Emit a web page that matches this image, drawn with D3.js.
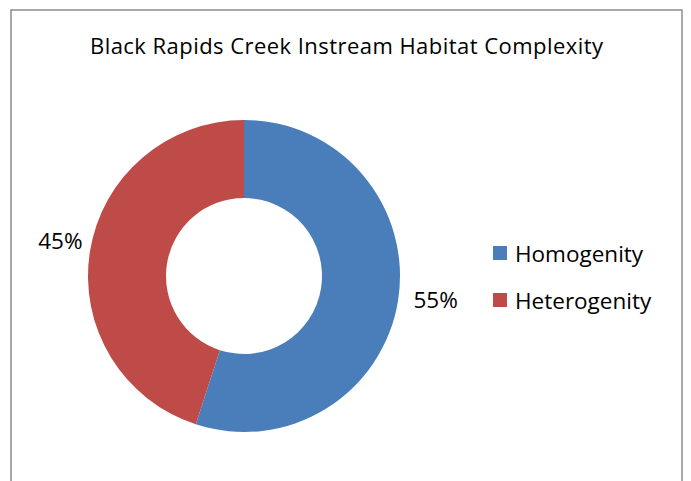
<!DOCTYPE html>
<html>
<head>
<meta charset="utf-8">
<script src="https://cdn.jsdelivr.net/npm/d3@7"></script>
<style>
  html, body { margin: 0; padding: 0; background: #fff; }
  svg { display: block; }
  text { font-family: "Open Sans", Lato, "Liberation Sans", sans-serif; fill: #000; }
</style>
</head>
<body>
<svg id="chart" width="691" height="481"></svg>
<script>
// Habitat complexity shares
const categories = ["Homogenity", "Heterogenity"];
const values = [55, 45];
const colors = ["#4a7ebb", "#be4b48"];
const chartTitle = "Black Rapids Creek Instream Habitat Complexity";

const svg = d3.select("#chart");

// chart frame
svg.append("rect")
  .attr("x", 11).attr("y", 10)
  .attr("width", 671).attr("height", 480)
  .attr("fill", "#fff")
  .attr("stroke", "#8c8c8c")
  .attr("stroke-width", 1.5);

svg.append("text")
  .attr("x", 90).attr("y", 54)
  .attr("font-size", 22)
  .attr("textLength", 513)
  .attr("lengthAdjust", "spacing")
  .text(chartTitle);

const cx = 244, cy = 276, outerR = 156, innerR = 78, labelR = 190;

const pie = d3.pie().sort(null).value(d => d)
  .startAngle(0).endAngle(2 * Math.PI);
const arcs = pie(values);

const arc = d3.arc().innerRadius(innerR).outerRadius(outerR);
const labelArc = d3.arc().innerRadius(labelR).outerRadius(labelR);

const g = svg.append("g").attr("transform", `translate(${cx},${cy})`);

g.selectAll("path.slice")
  .data(arcs)
  .join("path")
  .attr("class", "slice")
  .attr("d", arc)
  .attr("fill", (d, i) => colors[i]);

const total = d3.sum(values);
g.selectAll("text.pct")
  .data(arcs)
  .join("text")
  .attr("class", "pct")
  .attr("transform", d => {
    const [x, y] = labelArc.centroid(d);
    return `translate(${x + 4},${y - 6})`;
  })
  .attr("text-anchor", "middle")
  .attr("dominant-baseline", "central")
  .attr("font-size", 22.5)
  .text(d => Math.round(d.data / total * 100) + "%");

// legend
const legend = svg.append("g").attr("transform", "translate(493,253)");
const item = legend.selectAll("g.item")
  .data(categories)
  .join("g")
  .attr("class", "item")
  .attr("transform", (d, i) => `translate(0,${i * 47})`);

item.append("rect")
  .attr("x", 0).attr("y", -7)
  .attr("width", 14).attr("height", 14)
  .attr("fill", (d, i) => colors[i]);

item.append("text")
  .attr("x", 22).attr("y", 0)
  .attr("dominant-baseline", "central")
  .attr("font-size", 22.5)
  .text(d => d);
</script>
</body>
</html>
